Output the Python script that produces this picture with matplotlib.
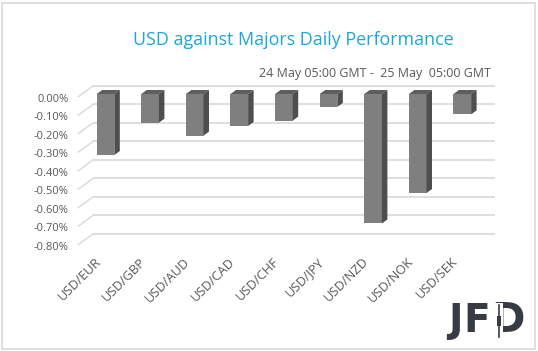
import matplotlib
matplotlib.use("Agg")
import matplotlib.pyplot as plt
from matplotlib.patches import Polygon, Rectangle
from matplotlib.lines import Line2D

# ---- data ----
categories = ["USD/EUR", "USD/GBP", "USD/AUD", "USD/CAD", "USD/CHF",
              "USD/JPY", "USD/NZD", "USD/NOK", "USD/SEK"]
values = [-0.33, -0.155, -0.225, -0.173, -0.144, -0.07, -0.70, -0.535, -0.11]
yticks_vals = [0.0, -0.1, -0.2, -0.3, -0.4, -0.5, -0.6, -0.7, -0.8]
title = "USD against Majors Daily Performance"
subtitle = "24 May 05:00 GMT -  25 May  05:00 GMT"

W, H = 538, 351
fig = plt.figure(figsize=(W / 100, H / 100), dpi=100)
fig.patch.set_facecolor("white")

font = ["Open Sans", "DejaVu Sans"]
plt.rcParams["font.family"] = font

# axes in pixel layout
L, R, T, B = 78, 496, 80, 250
ax = fig.add_axes([L / W, (H - B) / H, (R - L) / W, (B - T) / H])
x0px, xs = 105.5, 44.6   # px of category 0, px per category
y0px, ys = 94.0, 185.0   # px of value 0, px per 1 %
ax.set_xlim((L - x0px) / xs, (R - x0px) / xs)
ax.set_ylim(-(B - y0px) / ys, -(T - y0px) / ys)
for s in ax.spines.values():
    s.set_visible(False)
ax.set_facecolor("none")

grid_c = "#d9d9d9"
back_dy = (94 - 85.7) / ys
front_dy = -(96.7 - 94) / ys
xb_left = (93.3 - x0px) / xs
xb_right = (495 - x0px) / xs
xf_left = (78.3 - x0px) / xs
for v in yticks_vals:
    ax.plot([xb_left, xb_right], [v + back_dy, v + back_dy], color=grid_c,
            lw=1.2, zorder=1, clip_on=False, solid_capstyle="butt")
    ax.plot([xf_left, xb_left], [v + front_dy, v + back_dy], color=grid_c,
            lw=1.0, zorder=1, clip_on=False)

# bars (pseudo 3D)
w = 0.395
ddx = 5.5 / xs
ddy = 4.0 / ys
xpos = list(range(len(categories)))
ax.bar(xpos, values, width=w, bottom=0, color="#7f7f7f", zorder=3,
       edgecolor="none")
for x, v in zip(xpos, values):
    top = Polygon([(x - w / 2, 0), (x + w / 2, 0), (x + w / 2 + ddx, ddy),
                   (x - w / 2 + ddx, ddy)], closed=True, facecolor="#5e5e5e",
                  edgecolor="none", zorder=3)
    side = Polygon([(x + w / 2, 0), (x + w / 2, v), (x + w / 2 + ddx, v + ddy),
                    (x + w / 2 + ddx, ddy)], closed=True, facecolor="#4e4e4e",
                   edgecolor="none", zorder=3)
    ax.add_patch(top)
    ax.add_patch(side)

# ticks
ax.set_yticks([v - 0.02 for v in yticks_vals])
ax.set_yticklabels([f"{v:.2f}%" for v in yticks_vals])
ax.tick_params(axis="y", length=0, pad=7, labelsize=8, labelcolor="#595959")
ax.set_xticks([x - 0.15 for x in xpos])
ax.set_xticklabels(categories, rotation=45, ha="right", va="center",
                   rotation_mode="anchor")
ax.tick_params(axis="x", length=0, pad=7, labelsize=9.3, labelcolor="#595959")

# texts
fig.text(293.5 / W, 1 - 40 / H, title, ha="center", va="center",
         fontsize=12.9, color="#1ba6dc")
fig.text(491 / W, 1 - 73 / H, subtitle, ha="right", va="center",
         fontsize=9.0, color="#595959")

# logo
logo_c = "#373c44"
lf = ["DejaVu Sans"]
fig.text(455 / W, 1 - 321 / H, "J", ha="center", va="center", fontsize=28,
         fontweight="bold", color=logo_c, family=lf)
fig.text(476.5 / W, 1 - 321 / H, "F", ha="center", va="center", fontsize=28,
         fontweight="bold", color=logo_c, family=lf)
fig.text(508 / W, 1 - 321 / H, "D", ha="center", va="center", fontsize=29,
         fontweight="bold", color=logo_c, family=lf, zorder=5)
fig.patches.append(Rectangle((493 / W, 1 - 340 / H), 10 / W, 37 / H,
                             transform=fig.transFigure, facecolor="white",
                             edgecolor="none", zorder=6))
fig.lines.append(Line2D([499 / W, 499 / W], [1 - 305 / H, 1 - 337 / H],
                        transform=fig.transFigure, color=logo_c, lw=1.2,
                        zorder=7))
fig.patches.append(Rectangle((497.3 / W, 1 - 326 / H), 3.4 / W, 10 / H,
                             transform=fig.transFigure, facecolor=logo_c,
                             edgecolor="none", zorder=7))

# border
fig.patches.append(Rectangle((2 / W, 2.5 / H), 533 / W, 346 / H,
                             transform=fig.transFigure, facecolor="none",
                             edgecolor="#d9d9d9", lw=1.2, zorder=0))

fig.savefig("out.png", dpi=100)
